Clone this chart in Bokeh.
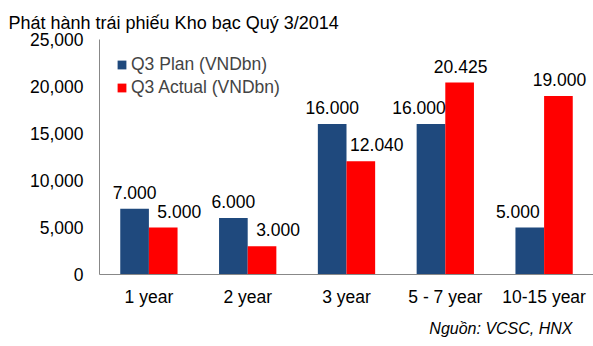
from bokeh.plotting import figure
from bokeh.models import (ColumnDataSource, FactorRange, Range1d, LabelSet, Title,
                          Legend, LegendItem, NumeralTickFormatter, FixedTicker)
from bokeh.core.properties import value
from bokeh.transform import dodge
from bokeh.embed import file_html
from bokeh.resources import INLINE

categories = ["1 year", "2 year", "3 year", "5 - 7 year", "10-15 year"]
plan = [7000, 6000, 16000, 16000, 5000]
actual = [5000, 3000, 12040, 20425, 19000]
y_ticks = [0, 5000, 10000, 15000, 20000, 25000]
series_names = ["Q3 Plan (VNDbn)", "Q3 Actual (VNDbn)"]
title_text = "Phát hành trái phiếu Kho bạc Quý 3/2014"
source_text = "Nguồn: VCSC, HNX"

FONT = "Liberation Sans"
BLUE = "#1F497D"
RED = "#FF0000"


def fmt(v):
    return f"{v:,.0f}".replace(",", ".")


# the label of the lower bar in each pair is nudged away from the taller bar
plan_dx = [-12 if a > pl else 0 for pl, a in zip(plan, actual)]
act_dx = [16 if a < pl else 1 for pl, a in zip(plan, actual)]

src = ColumnDataSource(dict(
    cat=categories, plan=plan, actual=actual,
    plan_lbl=[fmt(v) for v in plan], actual_lbl=[fmt(v) for v in actual],
    plan_dx=plan_dx, act_dx=act_dx,
))

p = figure(x_range=FactorRange(*categories, range_padding=0),
           y_range=Range1d(0, 25000),
           width=593, height=346, output_backend="svg", toolbar_location=None,
           min_border_left=99, min_border_right=0, min_border_top=39,
           min_border_bottom=72)

r_plan = p.vbar(x=dodge("cat", -0.145, range=p.x_range), top="plan", width=0.29,
                source=src, fill_color=BLUE, line_color=None)
r_act = p.vbar(x=dodge("cat", 0.145, range=p.x_range), top="actual", width=0.29,
               source=src, fill_color=RED, line_color=None)

lbl_plan = LabelSet(x=dodge("cat", -0.145, range=p.x_range), y="plan", text="plan_lbl",
                    source=src, x_offset="plan_dx", y_offset=10, text_align="center",
                    text_baseline="alphabetic", text_font=value(FONT),
                    text_font_size="17.5px", text_color="black")
lbl_act = LabelSet(x=dodge("cat", 0.145, range=p.x_range), y="actual", text="actual_lbl",
                   source=src, x_offset="act_dx", y_offset=10, text_align="center",
                   text_baseline="alphabetic", text_font=value(FONT),
                   text_font_size="17.5px", text_color="black")
p.add_layout(lbl_plan)
p.add_layout(lbl_act)

legend = Legend(items=[LegendItem(label=series_names[0], renderers=[r_plan]),
                       LegendItem(label=series_names[1], renderers=[r_act])],
                location=(17, 176), margin=0, padding=0, spacing=2,
                glyph_width=11, glyph_height=11, label_height=20,
                label_standoff=4, label_text_font=FONT, label_text_font_size="17.5px",
                border_line_color=None, background_fill_alpha=0)
p.add_layout(legend, "center")

p.xgrid.visible = False
p.ygrid.visible = False
p.outline_line_color = None

for ax in (p.xaxis, p.yaxis):
    ax.axis_line_color = "#888888"
    ax.axis_line_width = 1
    ax.major_tick_line_color = None
    ax.minor_tick_line_color = None
    ax.major_tick_out = 0
    ax.major_tick_in = 0
    ax.major_label_text_font = FONT
    ax.major_label_text_font_size = "17.5px"
    ax.major_label_text_color = "black"

p.xaxis.major_label_standoff = 12
p.yaxis.major_label_standoff = 16
p.yaxis.ticker = FixedTicker(ticks=y_ticks)
p.yaxis.formatter = NumeralTickFormatter(format="0,0")

p.title.text = title_text
p.title.align = "left"
p.title.offset = -91
p.title.standoff = 13
p.title.text_font = FONT
p.title.text_font_size = "18px"
p.title.text_font_style = "normal"
p.title.text_color = "black"

p.add_layout(Title(text=source_text, align="right", offset=21, standoff=16,
                   text_font=FONT, text_font_size="16px", text_font_style="italic",
                   text_color="black"), "below")

open("out.html", "w").write(file_html(p, INLINE))
